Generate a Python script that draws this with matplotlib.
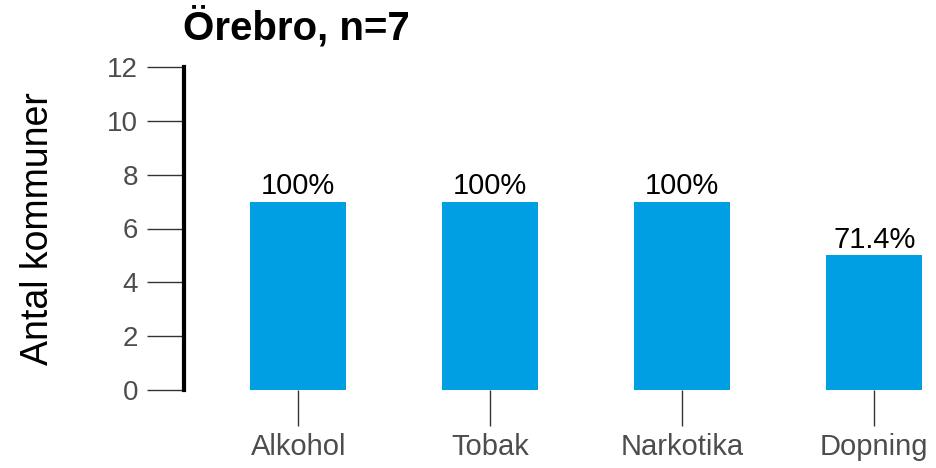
import matplotlib
matplotlib.use("Agg")
import matplotlib.pyplot as plt

categories = ["Alkohol", "Tobak", "Narkotika", "Dopning"]
values = [7, 7, 7, 5]
labels = ["100%", "100%", "100%", "71.4%"]
yticks = [0, 2, 4, 6, 8, 10, 12]
title = "Örebro, n=7"
ylabel = "Antal kommuner"

plt.rcParams['font.family'] = ['Liberation Sans', 'DejaVu Sans']
W, H = 936, 468
fig = plt.figure(figsize=(W/100, H/100), dpi=100)
L = 184
ax = fig.add_axes([L/W, (H-390)/H, (W-L)/W, 323/H])

x = list(range(len(categories)))
ax.bar(x, values, width=0.5, color="#009FE3", zorder=2)
for xi, v, lab in zip(x, values, labels):
    ax.text(xi, v + 0.05, lab, ha="center", va="bottom", fontsize=21, color="black")

ax.set_xlim(-0.6 + 1/192, -0.6 + 1/192 + (W-L)/192)
ax.set_ylim(0, 12)
ax.set_yticks(yticks)
ax.set_xticks(x)
ax.set_xticklabels(categories)

for s in ["top", "right", "bottom"]:
    ax.spines[s].set_visible(False)
ax.spines["left"].set_linewidth(3)
ax.spines["left"].set_color("black")

ax.tick_params(axis="y", length=27, width=1, color="#333333", labelsize=20,
               labelcolor="#4D4D4D", pad=6)
ax.tick_params(axis="x", length=26, width=1, color="#333333", labelsize=21,
               labelcolor="#4D4D4D", pad=5)

ax.set_ylabel(ylabel, fontsize=27, labelpad=37)
fig.text(183/W, 1 - 27/H, title, fontsize=29, fontweight="bold", ha="left", va="center")

fig.savefig("out.png", dpi=100)
